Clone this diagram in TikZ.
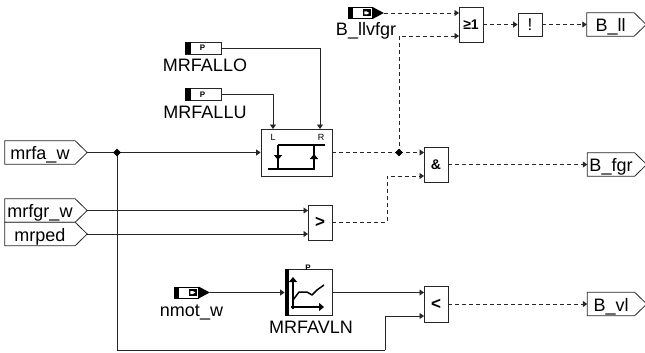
\documentclass[tikz,border=0pt]{standalone}
\usepackage{fontspec}
\setmainfont{Liberation Sans}
\usetikzlibrary{arrows.meta,shapes.geometric}
\tikzset{
  wire/.style={line width=.8pt,draw=black!85,-{Triangle[length=4.5pt,width=6pt]}},
  plain/.style={line width=.8pt,draw=black!85},
  bool/.style={wire,dash pattern=on 4pt off 3pt},
  boolplain/.style={plain,dash pattern=on 4pt off 3pt},
  blockbox/.style={draw=black!85,fill=white,line width=.8pt,inner sep=0pt,font=\fontsize{14}{16}\bfseries\selectfont},
  tagbody/.style={inner sep=0pt,minimum height=23pt,text height=18pt,text depth=4pt,font=\fontsize{18}{20}\selectfont},
  lbl/.style={inner sep=0pt,text height=13pt,text depth=0pt,font=\fontsize{18}{20}\selectfont},
  junction/.style={diamond,fill=black,inner sep=0pt,minimum width=8pt,minimum height=8pt},
  tiny/.style={inner sep=0pt,font=\fontsize{8}{8}\bfseries\selectfont},
  sig/.style={line width=1.5pt,draw=black},
  sigarrow/.style={sig,-{Triangle[length=5pt,width=8pt]}},
}
\newcommand{\tagbox}[5]{% name, cx, cy, body width, text
  \node[tagbody,minimum width=#4pt] (#1) at (#2,#3) {#5};
  \coordinate (#1-tip) at ([xshift=12pt]#1.east);
  \draw[plain,fill=white,line join=miter] (#1.north west) -- (#1.north east) -- (#1-tip) -- (#1.south east) -- (#1.south west) -- cycle;
  \node[tagbody,minimum width=#4pt] at (#2,#3) {#5};
}
\newcommand{\paramtag}[3]{% name, cx, cy
  \node[draw=black!85,line width=.8pt,fill=white,minimum width=36pt,minimum height=12pt,inner sep=0pt] (#1) at (#2,#3) {};
  \fill[black] (#1.north west) rectangle ([xshift=6pt]#1.south west);
  \node[tiny,font=\fontsize{8}{8}\bfseries\selectfont] (#1-p) at ([xshift=18pt]#1.center -| #1.west) {P};
}
\newcommand{\msgtag}[3]{% name, left x, cy
  \node[draw=black,line width=.8pt,fill=white,minimum width=24pt,minimum height=11pt,inner sep=0pt,anchor=west] (#1) at (#2,#3) {};
  \fill[black] (#1.north west) rectangle ([xshift=5pt]#1.south west);
  \fill[black] (#1.north east) -- ([xshift=11pt]#1.east) -- (#1.south east) -- cycle;
  \coordinate (#1-tip) at ([xshift=11pt]#1.east);
  \fill[black] ([xshift=-10pt,yshift=3.5pt]#1.east) rectangle ([xshift=-2pt,yshift=-3.5pt]#1.east);
  \fill[white] ([xshift=-8.5pt,yshift=1.5pt]#1.east) -- ([xshift=-6pt,yshift=1.5pt]#1.east) -- ([xshift=-3.5pt]#1.east) -- ([xshift=-6pt,yshift=-1.5pt]#1.east) -- ([xshift=-8.5pt,yshift=-1.5pt]#1.east) -- cycle;
}
\begin{document}
\begin{tikzpicture}[x=1pt,y=-1pt]
\useasboundingbox (0,0) rectangle (645,353);

% inputs
\tagbox{mrfa}{40}{152.5}{70}{mrfa\_w}
\tagbox{mrfgr}{40}{210.5}{70}{mrfgr\_w}
\tagbox{mrped}{40}{234}{70}{mrped}

% outputs
\tagbox{bll}{610.5}{24.5}{47}{B\_ll}
\tagbox{bfgr}{611}{164.5}{47}{B\_fgr}
\tagbox{bvl}{611}{304}{47}{B\_vl}

% parameters and messages
\paramtag{pallo}{203}{48}
\node[lbl] (lallo) at (205,64.5) {MRFALLO};
\paramtag{pallu}{203}{94.5}
\node[lbl] (lallu) at (205,111.5) {MRFALLU};
\msgtag{mllv}{348}{13}
\node[lbl] (lllv) at (366,29) {B\_llvfgr};
\msgtag{mnmot}{174}{292.5}
\node[lbl] (lnmot) at (191.5,309.5) {nmot\_w};

% blocks
\node[blockbox,minimum width=71pt,minimum height=47pt] (hyst) at (296.5,152.5) {};
\node[inner sep=0pt,font=\fontsize{9}{9}\selectfont] (hystL) at (273,137) {L};
\node[inner sep=0pt,font=\fontsize{9}{9}\selectfont] (hystR) at (321,137) {R};
\draw[sig] (278,145) -- (325,145);
\draw[sig] (268,169) -- (315,169);
\draw[sigarrow] (278,145) -- (278,160);
\draw[sig] (278,158) -- (278,169);
\draw[sigarrow] (314,169) -- (314,154);
\draw[sig] (314,156) -- (314,145);

\node[blockbox,minimum width=24pt,minimum height=35pt,font=\fontsize{17}{17}\bfseries\selectfont] (gt) at (320,222.5) {>};
\node[blockbox,minimum width=24pt,minimum height=35pt] (andb) at (436,164.5) {\&};
\node[blockbox,minimum width=24pt,minimum height=36pt,font=\fontsize{17}{17}\bfseries\selectfont] (lt) at (436,304) {<};
\node[blockbox,minimum width=24pt,minimum height=35pt,font=\fontsize{14}{14}\bfseries\selectfont] (ge) at (471,24.5) {≥1};
\node[blockbox,minimum width=24pt,minimum height=23pt,font=\fontsize{17}{17}\selectfont] (notb) at (530,24.5) {!};

\node[blockbox,minimum width=47pt,minimum height=46pt] (avln) at (308.5,292.5) {};
\fill[black] (avln.north west) rectangle ([xshift=4.5pt]avln.south west);
\node[tiny] (avlnp) at (308,268) {P};
\draw[sigarrow,line width=1.2pt] (293,309) -- (293,277);
\draw[sigarrow,line width=1.2pt] (291,307) -- (324,307);
\draw[sig,line join=round] (293,300) -- (299,292) -- (307,292) -- (312,295) -- (317,290) -- (324,285);
\node[lbl] (lavln) at (311,326.5) {MRFAVLN};

% named connection points
\coordinate (j1) at (117,152.5);
\coordinate (j2) at (399,152.5);
\coordinate (ret) at (385,350);
\coordinate (hystLin) at (273,129);
\coordinate (hystRin) at (320,129);
\coordinate (ge2) at (459,36);
\coordinate (ge1) at (459,13);
\coordinate (and1) at (424,152.5);
\coordinate (and2) at (424,176);
\coordinate (gt1) at (308,210.5);
\coordinate (gt2) at (308,234);
\coordinate (lt1) at (424,292.5);
\coordinate (lt2) at (424,316);
\coordinate (bendtop) at (387,176);

% solid connectors
\draw[plain] (mrfa-tip) -- (j1);
\draw[wire] (j1) -- (hyst.west);
\draw[wire] (mrfgr-tip) -- (gt1);
\draw[wire] (mrped-tip) -- (gt2);
\draw[plain] (j1) |- (ret);
\draw[wire] (ret) |- (lt2);
\draw[wire] (pallo.east) -| (hystRin);
\draw[wire] (pallu.east) -| (hystLin);
\draw[wire] (mnmot-tip) -- (avln.west);
\draw[wire] (avln.east) -- (lt1);

% boolean connectors
\draw[boolplain] (hyst.east) -- (j2);
\draw[bool] (j2) -- (and1);
\draw[bool] (j2) |- (ge2);
\draw[bool] (mllv-tip) -- (ge1);
\draw[bool] (gt.east) -| (bendtop) -- (and2);
\draw[bool] (ge.east) -- (notb.west);
\draw[bool] (notb.east) -- (bll.west);
\draw[bool] (andb.east) -- (bfgr.west);
\draw[bool] (lt.east) -- (bvl.west);

% junctions
\node[junction] (dj1) at (j1) {};
\node[junction] (dj2) at (j2) {};
\end{tikzpicture}
\end{document}
